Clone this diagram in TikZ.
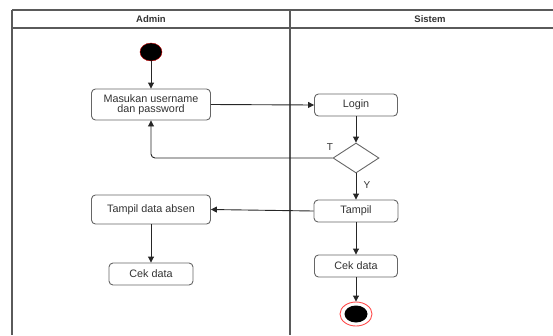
\documentclass[tikz,border=0pt]{standalone}
\usepackage{fontspec}
\setmainfont{Liberation Sans}
\usetikzlibrary{shapes.geometric,arrows.meta}
\definecolor{lane}{HTML}{5A5A5A}
\definecolor{boxc}{HTML}{666666}
\definecolor{txt}{HTML}{333333}
\tikzset{
  act/.style={draw=boxc, line width=0.9pt, rounded corners=4pt, fill=white, text=txt,
    font=\fontsize{10.8}{10.5}\selectfont, align=center, inner sep=0pt},
  flow/.style={draw=black!85, line width=0.9pt, -{Triangle[length=6pt,width=6pt]}},
  lbl/.style={text=txt, font=\fontsize{10}{11}\selectfont},
  hdr/.style={text=txt, font=\bfseries\fontsize{9.5}{11}\selectfont},
}
\begin{document}
\begin{tikzpicture}[x=1pt,y=-1pt]
\useasboundingbox (0,0) rectangle (553,335);
% swimlanes
\draw[lane, line width=1.3pt] (12,10) -- (553,10);
\draw[lane, line width=1.3pt] (12,28) -- (553,28);
\draw[lane, line width=1.3pt] (12,10) -- (12,335);
\draw[lane, line width=1.3pt] (290,10) -- (290,335);
\node[hdr] (hadmin) at (151,19) {Admin};
\node[hdr] (hsistem) at (430,19) {Sistem};
% nodes
\node[ellipse, fill=black, draw=red!80!black, line width=0.4pt, minimum width=22pt, minimum height=18pt, inner sep=0pt] (start) at (151,52) {};
\node[act, minimum width=119pt, minimum height=31pt] (masuk) at (151,104.5) {Masukan username\\dan password};
\node[act, minimum width=83pt, minimum height=22pt] (login) at (356,105) {Login};
\node[diamond, draw=boxc, line width=0.9pt, minimum width=46pt, minimum height=30pt, inner sep=0pt] (dec) at (356,158) {};
\node[act, minimum width=84pt, minimum height=22pt] (tampil) at (356,211) {Tampil};
\node[act, minimum width=119pt, minimum height=29pt] (tda) at (151,209.5) {Tampil data absen};
\node[act, minimum width=84pt, minimum height=22pt] (cek1) at (151,274) {Cek data};
\node[act, minimum width=83pt, minimum height=22pt] (cek2) at (356,266) {Cek data};
\node[ellipse, draw=red!70, fill=white, line width=0.9pt, minimum width=32pt, minimum height=24pt, inner sep=0pt] (end) at (356,314) {};
\node[ellipse, fill=black, minimum width=23pt, minimum height=17pt, inner sep=0pt] (endin) at (356,314) {};
\coordinate (corner) at (151,158);
% connectors
\draw[flow] (start) -- (masuk);
\draw[flow] (masuk.east) -- (login.west);
\draw[flow] (login) -- (dec);
\draw[flow, rounded corners=4pt] (dec.west) -- (corner) -- (masuk.south);
\draw[flow] (dec) -- (tampil);
\draw[flow] (tampil.west) -- (tda.east);
\draw[flow] (tda) -- (cek1);
\draw[flow] (tampil) -- (cek2);
\draw[flow] (cek2) -- (end);
\node[lbl] (tl) at (330,147) {T};
\node[lbl] (yl) at (367,185) {Y};
\end{tikzpicture}
\end{document}
